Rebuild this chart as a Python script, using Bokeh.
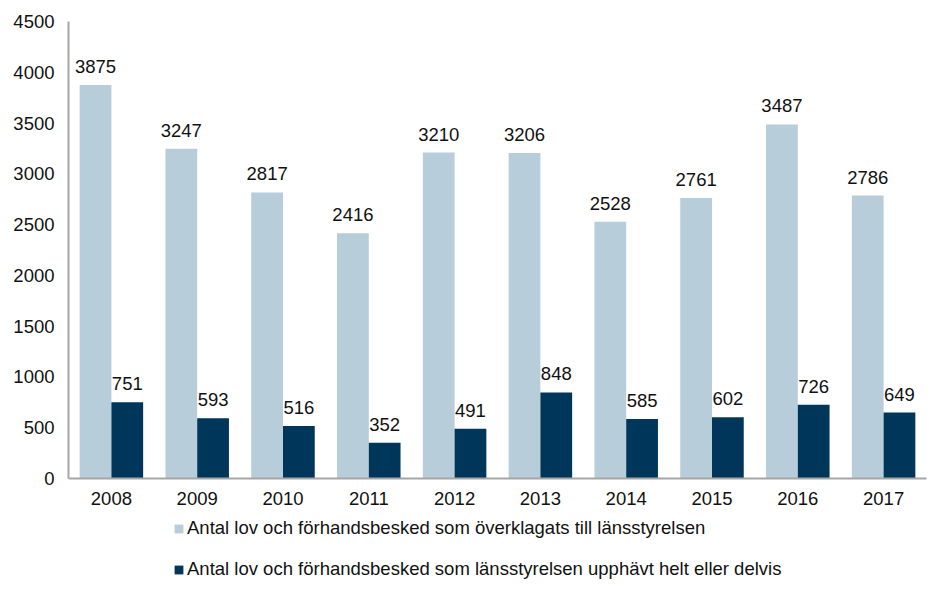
from bokeh.plotting import figure
from bokeh.layouts import column
from bokeh.models import ColumnDataSource, FactorRange, Legend, LegendItem, FixedTicker, Range1d
from bokeh.transform import dodge
from bokeh.core.properties import value
from bokeh.embed import file_html
from bokeh.resources import INLINE

years = ["2008", "2009", "2010", "2011", "2012", "2013", "2014", "2015", "2016", "2017"]
overklagade = [3875, 3247, 2817, 2416, 3210, 3206, 2528, 2761, 3487, 2786]
upphavda = [751, 593, 516, 352, 491, 848, 585, 602, 726, 649]
y_ticks = [0, 500, 1000, 1500, 2000, 2500, 3000, 3500, 4000, 4500]
series_names = [
    "Antal lov och förhandsbesked som överklagats till länsstyrelsen",
    "Antal lov och förhandsbesked som länsstyrelsen upphävt helt eller delvis",
]

LIGHT = "#b7cdd9"
DARK = "#00365a"
FONT = "Liberation Sans"
FS = "18.5px"

src = ColumnDataSource(dict(
    year=years,
    a=overklagade,
    b=upphavda,
    a_txt=[str(v) for v in overklagade],
    b_txt=[str(v) for v in upphavda],
))

p = figure(width=930, height=512, x_range=FactorRange(factors=years),
           y_range=Range1d(0, 4500), output_backend="svg", toolbar_location=None,
           min_border_left=68, min_border_right=4, min_border_top=21, min_border_bottom=34)

p.vbar(x=dodge("year", -0.185, range=p.x_range), top="a", width=0.37, source=src,
       fill_color=LIGHT, line_color=None)
p.vbar(x=dodge("year", 0.185, range=p.x_range), top="b", width=0.37, source=src,
       fill_color=DARK, line_color=None)

p.text(x=dodge("year", -0.185, range=p.x_range), y="a", text="a_txt", source=src,
       y_offset=-12, text_align="center", text_baseline="bottom",
       text_font=value(FONT), text_font_size=FS, text_color="#111111")
p.text(x=dodge("year", 0.185, range=p.x_range), y="b", text="b_txt", source=src,
       y_offset=-12, text_align="center", text_baseline="bottom",
       text_font=value(FONT), text_font_size=FS, text_color="#111111")

p.xgrid.visible = False
p.ygrid.visible = False
p.outline_line_color = None

for ax in (p.xaxis[0], p.yaxis[0]):
    ax.axis_line_color = "#a6a6a6"
    ax.axis_line_width = 2
    ax.major_tick_line_color = None
    ax.minor_tick_line_color = None
    ax.major_label_text_font = FONT
    ax.major_label_text_font_size = FS
    ax.major_label_text_color = "#111111"

p.yaxis.ticker = FixedTicker(ticks=y_ticks)
p.yaxis.major_label_standoff = 8
p.xaxis.major_label_standoff = 7
p.x_range.range_padding = 0

# legend panel below the chart (its frame is aligned with the chart's frame);
# its renderers are zero-size so that only the legend swatches show
lg = figure(width=930, height=78, x_range=FactorRange(factors=years),
            y_range=Range1d(-20000, -10000), output_backend="svg", toolbar_location=None,
            x_axis_location=None, y_axis_location=None,
            min_border_left=0, min_border_right=0, min_border_top=0, min_border_bottom=0)
lg.outline_line_color = None
lg.grid.visible = False
q1 = lg.vbar(x="year", top="a", bottom="a", width=0, source=src,
             fill_color=LIGHT, line_color=None)
q2 = lg.vbar(x="year", top="b", bottom="b", width=0, source=src,
             fill_color=DARK, line_color=None)

legend = Legend(items=[LegendItem(label=series_names[0], renderers=[q1]),
                       LegendItem(label=series_names[1], renderers=[q2])],
                location=(105, 10), orientation="vertical",
                label_text_font=FONT, label_text_font_size=FS, label_text_color="#111111",
                glyph_width=11, glyph_height=11, label_height=20, spacing=19,
                label_standoff=3, padding=4, margin=0, border_line_color=None,
                background_fill_alpha=0)
lg.add_layout(legend, "center")

layout = column(p, lg, spacing=0)
open("out.html", "w").write(file_html(layout, INLINE))
